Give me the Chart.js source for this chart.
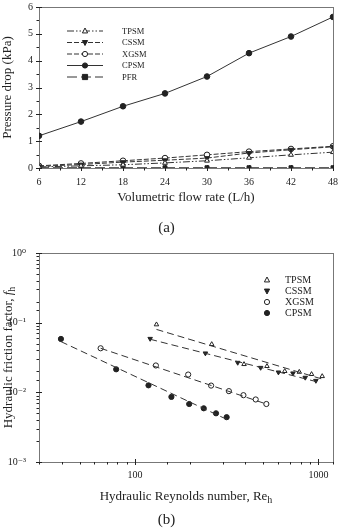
<!DOCTYPE html>
<html>
<head>
<meta charset="utf-8">
<script src="https://cdn.jsdelivr.net/npm/chart.js@4/dist/chart.umd.min.js"></script>
<style>
  html, body { margin: 0; padding: 0; background: #fff; }
  .panel { position: absolute; left: 0; width: 339px; }
  #panelA { top: 0; height: 240px; }
  #panelB { top: 240px; height: 290px; }
</style>
</head>
<body>
<div class="panel" id="panelA"><canvas id="chartA"></canvas></div>
<div class="panel" id="panelB"><canvas id="chartB"></canvas></div>
<script>
// (a) pressure drop against flow rate
const flowRates = [6, 12, 18, 24, 30, 36, 42, 48];
const dropTPSM = [0.04, 0.08, 0.12, 0.19, 0.27, 0.38, 0.49, 0.59];
const dropCSSM = [0.06, 0.13, 0.22, 0.29, 0.37, 0.56, 0.68, 0.79];
const dropXGSM = [0.08, 0.17, 0.27, 0.37, 0.49, 0.61, 0.71, 0.81];
const dropCPSM = [1.20, 1.73, 2.30, 2.78, 3.41, 4.28, 4.90, 5.63];
const dropPFR = [0.01, 0.01, 0.01, 0.01, 0.01, 0.01, 0.01, 0.01];

// (b) friction factor against Reynolds number
const reTPSM = [131, 262, 393, 524, 655, 786, 917, 1048];
const fTPSM = [0.094, 0.049, 0.0253, 0.0237, 0.0201, 0.0196, 0.0182, 0.0170];
const reCSSM = [121, 242, 363, 484, 605, 726, 847, 968];
const fCSSM = [0.0589, 0.0364, 0.0267, 0.0226, 0.0194, 0.0188, 0.0163, 0.0147];
const reXGSM = [65, 130, 195, 260, 325, 390, 455, 520];
const fXGSM = [0.0429, 0.0243, 0.0180, 0.0125, 0.0104, 0.0091, 0.0079, 0.0068];
const reCPSM = [39.5, 79, 118.5, 158, 197.5, 237, 276.5, 316];
const fCPSM = [0.0584, 0.0214, 0.0126, 0.0086, 0.0068, 0.0059, 0.0050, 0.0044];

// power-law fit lines, end points [Re, f]
const fitTPSM = [[131, 0.080], [1048, 0.0155]];
const fitCSSM = [[121, 0.0578], [968, 0.0143]];
const fitXGSM = [[65, 0.0429], [520, 0.0068]];
const fitCPSM = [[39.5, 0.0535], [316, 0.0041]];

const SERIF = "'Liberation Serif', 'Times New Roman', 'DejaVu Serif', serif";
const INK = '#222';

const pts = (xs, ys) => xs.map((x, i) => ({ x: x, y: ys[i] }));
const fitPts = (f) => f.map(p => ({ x: p[0], y: p[1] }));

function drawMarker(ctx, style, rot, x, y, r, fill) {
  ctx.save();
  ctx.translate(x, y);
  ctx.rotate((rot || 0) * Math.PI / 180);
  ctx.beginPath();
  if (style === 'circle') {
    ctx.arc(0, 0, r, 0, Math.PI * 2);
  } else if (style === 'rect') {
    ctx.rect(-r, -r, 2 * r, 2 * r);
  } else if (style === 'triangle') {
    ctx.moveTo(0, -r * 1.15);
    ctx.lineTo(r, r * 0.75);
    ctx.lineTo(-r, r * 0.75);
    ctx.closePath();
  }
  ctx.fillStyle = fill;
  ctx.fill();
  ctx.lineWidth = 1;
  ctx.strokeStyle = INK;
  ctx.stroke();
  ctx.restore();
}

// legend inside the plot area: optional line sample, marker, label
const insideLegend = {
  id: 'insideLegend',
  afterDraw(chart, args, opts) {
    const ctx = chart.ctx;
    const a = chart.chartArea;
    let row = 0;
    chart.data.datasets.forEach(ds => {
      if (!ds.legendLabel) return;
      const y = a.top + opts.top + row * opts.step;
      const mx = a.left + opts.markerX;
      if (opts.lineLen) {
        ctx.save();
        ctx.strokeStyle = ds.borderColor;
        ctx.lineWidth = ds.borderWidth;
        ctx.setLineDash(ds.borderDash || []);
        ctx.beginPath();
        ctx.moveTo(mx - opts.lineLen / 2, y);
        ctx.lineTo(mx + opts.lineLen / 2, y);
        ctx.stroke();
        ctx.restore();
      }
      drawMarker(ctx, ds.pointStyle, ds.pointRotation, mx, y, opts.r, ds.pointBackgroundColor);
      ctx.save();
      ctx.fillStyle = INK;
      ctx.font = opts.font;
      ctx.textBaseline = 'middle';
      ctx.fillText(ds.legendLabel, a.left + opts.textX, y + 0.5);
      ctx.restore();
      row++;
    });
  }
};

// grey frame around the plot, then tick marks: labelled ticks cross the axis, the rest sit outside
const frame = {
  id: 'frame',
  beforeDatasetsDraw(chart) {
    const ctx = chart.ctx;
    const a = chart.chartArea;
    ctx.save();
    ctx.strokeStyle = '#777';
    ctx.lineWidth = 1;
    ctx.strokeRect(a.left + 0.5, a.top + 0.5, a.right - a.left, a.bottom - a.top);
    ctx.strokeStyle = INK;
    ctx.beginPath();
    const xs = chart.scales.x, ys = chart.scales.y;
    xs.ticks.forEach(t => {
      const px = Math.round(xs.getPixelForValue(t.value)) + 0.5;
      const major = t.label !== '';
      ctx.moveTo(px, a.bottom + (major ? -3 : 0));
      ctx.lineTo(px, a.bottom + (major ? 3 : 2.5));
    });
    ys.ticks.forEach(t => {
      const py = Math.round(ys.getPixelForValue(t.value)) + 0.5;
      const major = t.label !== '';
      ctx.moveTo(a.left + (major ? 3 : 0), py);
      ctx.lineTo(a.left - (major ? 3 : 2.5), py);
    });
    ctx.stroke();
    ctx.restore();
  }
};

const hiddenGrid = { drawOnChartArea: false, color: 'rgba(0,0,0,0)', tickLength: 3 };

// fixed axis boxes so the plot area follows the layout padding only
const fixX = h => s => { s.height = h; s.paddingLeft = 0; s.paddingRight = 0; };
const fixY = w => s => { s.width = w; s.paddingTop = 0; s.paddingBottom = 0; };

function markerSet(label, data, style, rot, fill, dash) {
  return {
    legendLabel: label,
    data: data,
    borderColor: '#333',
    borderWidth: 1,
    borderDash: dash,
    pointStyle: style,
    pointRotation: rot,
    pointRadius: 2.8,
    pointBorderWidth: 1,
    pointBorderColor: INK,
    pointBackgroundColor: fill,
    showLine: true,
    fill: false,
    tension: 0
  };
}

new Chart('chartA', {
  type: 'line',
  data: {
    datasets: [
      markerSet('TPSM', pts(flowRates, dropTPSM), 'triangle', 0, '#fff', [7, 2, 1.5, 2, 1.5, 2]),
      markerSet('CSSM', pts(flowRates, dropCSSM), 'triangle', 180, INK, [5, 2]),
      markerSet('XGSM', pts(flowRates, dropXGSM), 'circle', 0, '#fff', [5, 2]),
      markerSet('CPSM', pts(flowRates, dropCPSM), 'circle', 0, INK, []),
      markerSet('PFR', pts(flowRates, dropPFR), 'rect', 0, INK, [10, 4])
    ]
  },
  options: {
    responsive: true,
    maintainAspectRatio: false,
    animation: false,
    layout: { padding: { left: 0, right: 6, top: 7, bottom: 3 } },
    plugins: {
      legend: { display: false },
      tooltip: { enabled: false },
      title: {
        display: true,
        position: 'bottom',
        text: '(a)',
        color: INK,
        font: { family: SERIF, size: 15, weight: 'normal' },
        padding: { top: 14, bottom: 0 }
      },
      insideLegend: { top: 24, step: 11.5, markerX: 46, lineLen: 36, textX: 83, r: 2.6, font: '8.5px ' + SERIF }
    },
    scales: {
      x: {
        type: 'linear',
        min: 6, max: 48,
        afterFit: fixX(37),
        border: { color: INK },
        grid: hiddenGrid,
        ticks: {
          stepSize: 3, autoSkip: false, maxRotation: 0, color: INK, padding: 5,
          font: { family: SERIF, size: 10 },
          callback: v => (v % 6 === 0 ? v : '')
        },
        title: {
          display: true, text: 'Volumetric flow rate (L/h)', color: INK,
          font: { family: SERIF, size: 13 }, padding: { top: 0, bottom: 0 }
        }
      },
      y: {
        min: 0, max: 6,
        afterFit: fixY(39),
        border: { color: INK },
        grid: hiddenGrid,
        ticks: {
          stepSize: 0.5, autoSkip: false, color: INK, padding: 3,
          font: { family: SERIF, size: 10 },
          callback: v => (Number.isInteger(v) ? v : '')
        },
        title: {
          display: true, text: 'Pressure drop (kPa)', color: INK,
          font: { family: SERIF, size: 13 }, padding: { top: 0, bottom: 0 }
        }
      }
    }
  },
  plugins: [frame, insideLegend]
});

const SUP = { '0': '⁰', '1': '¹', '2': '²', '3': '³', '-': '⁻' };
const isDecade = v => Math.abs(Math.log10(v) - Math.round(Math.log10(v))) < 1e-6;

// axis titles with italic f and subscript h
const richTitles = {
  id: 'richTitles',
  afterDraw(chart) {
    const ctx = chart.ctx;
    const a = chart.chartArea;
    ctx.save();
    ctx.fillStyle = INK;
    ctx.textBaseline = 'alphabetic';
    const runs = (parts) => {
      let w = 0;
      parts.forEach(p => { ctx.font = p.font; w += ctx.measureText(p.t).width; });
      return w;
    };
    const put = (parts, x, y) => {
      parts.forEach(p => {
        ctx.font = p.font;
        ctx.fillText(p.t, x, y + (p.dy || 0));
        x += ctx.measureText(p.t).width;
      });
    };
    const base = '13px ' + SERIF;
    const sub = '10px ' + SERIF;
    const xt = [{ t: 'Hydraulic Reynolds number, Re', font: base }, { t: 'h', font: sub, dy: 3 }];
    const xw = runs(xt);
    put(xt, (a.left + a.right) / 2 - xw / 2, a.bottom + 38);
    const yt = [{ t: 'Hydraulic friction factor, ', font: base }, { t: 'f', font: 'italic 13px ' + SERIF }, { t: 'h', font: sub, dy: 3 }];
    const yw = runs(yt);
    ctx.translate(12, (a.top + a.bottom) / 2);
    ctx.rotate(-Math.PI / 2);
    put(yt, -yw / 2, 0);
    ctx.restore();
  }
};

function plainSet(label, data, style, rot, fill) {
  return {
    legendLabel: label,
    data: data,
    showLine: false,
    pointStyle: style,
    pointRotation: rot,
    pointRadius: 2.6,
    pointBorderWidth: 1,
    pointBorderColor: INK,
    pointBackgroundColor: fill
  };
}

function fitSet(data) {
  return {
    data: data,
    showLine: true,
    pointRadius: 0,
    borderColor: '#333',
    borderWidth: 1,
    borderDash: [7, 4]
  };
}

new Chart('chartB', {
  type: 'scatter',
  data: {
    datasets: [
      fitSet(fitPts(fitTPSM)),
      fitSet(fitPts(fitCSSM)),
      fitSet(fitPts(fitXGSM)),
      fitSet(fitPts(fitCPSM)),
      plainSet('TPSM', pts(reTPSM, fTPSM), 'triangle', 0, '#fff'),
      plainSet('CSSM', pts(reCSSM, fCSSM), 'triangle', 180, INK),
      plainSet('XGSM', pts(reXGSM, fXGSM), 'circle', 0, '#fff'),
      plainSet('CPSM', pts(reCPSM, fCPSM), 'circle', 0, INK)
    ]
  },
  options: {
    responsive: true,
    maintainAspectRatio: false,
    animation: false,
    layout: { padding: { left: 0, right: 6, top: 13, bottom: 1 } },
    plugins: {
      legend: { display: false },
      tooltip: { enabled: false },
      title: {
        display: true,
        position: 'bottom',
        text: '(b)',
        color: INK,
        font: { family: SERIF, size: 15, weight: 'normal' },
        padding: { top: 9, bottom: 0 }
      },
      insideLegend: { top: 27, step: 11, markerX: 228, lineLen: 0, textX: 246, r: 2.6, font: '10px ' + SERIF }
    },
    scales: {
      x: {
        type: 'logarithmic',
        min: 30, max: 1200,
        afterFit: fixX(40),
        border: { color: INK },
        grid: hiddenGrid,
        ticks: {
          autoSkip: false, maxRotation: 0, color: INK, padding: 4,
          font: { family: SERIF, size: 10 },
          callback: v => (isDecade(v) ? String(Math.round(v)) : '')
        }
      },
      y: {
        type: 'logarithmic',
        min: 0.001, max: 1,
        afterFit: fixY(39),
        border: { color: INK },
        grid: hiddenGrid,
        ticks: {
          autoSkip: false, color: INK, padding: 10,
          font: { family: SERIF, size: 10 },
          callback: v => isDecade(v) ? '10' + String(Math.round(Math.log10(v))).split('').map(c => SUP[c]).join('') : ''
        }
      }
    }
  },
  plugins: [frame, insideLegend, richTitles]
});
</script>
</body>
</html>
